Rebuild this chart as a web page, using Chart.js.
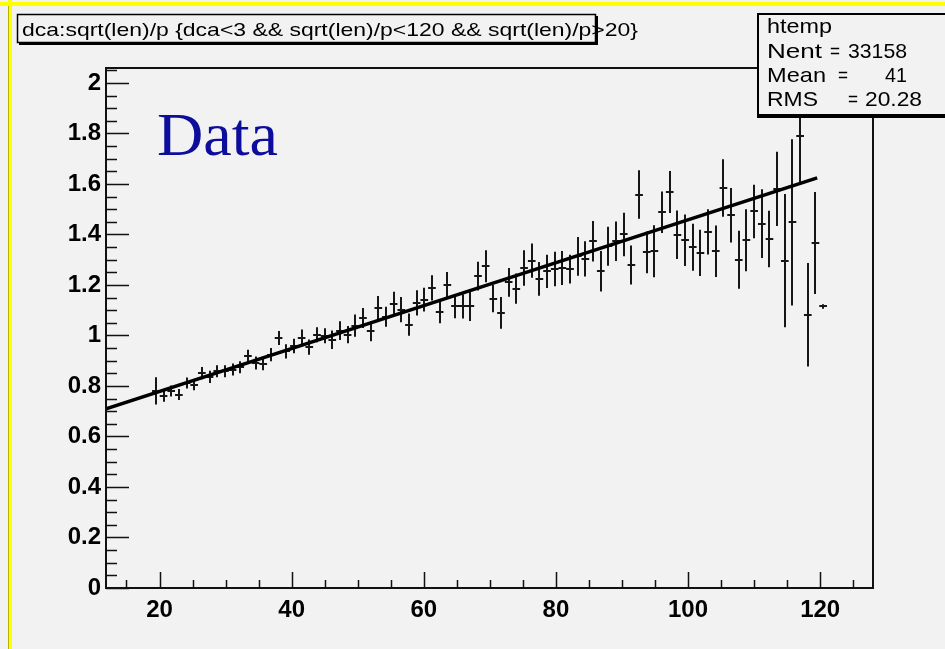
<!DOCTYPE html>
<html>
<head>
<meta charset="utf-8">
<script src="https://cdn.jsdelivr.net/npm/chart.js@4.4.1/dist/chart.umd.min.js"></script>
<style>
  html, body { margin: 0; padding: 0; background: #f2f2f2; }
  #wrap { position: relative; width: 945px; height: 649px; }
</style>
</head>
<body>
<div id="wrap"><canvas id="profChart"></canvas></div>
<script>
// profile bin centres (sqrt(len)/p)
const xCenters = [
  19.45, 20.61, 21.77, 22.93, 24.09, 25.25, 26.41, 27.57, 28.74, 29.90,
  31.06, 32.22, 33.38, 34.54, 35.70, 36.86, 38.02, 39.18, 40.35, 41.51,
  42.67, 43.83, 44.99, 46.15, 47.31, 48.47, 49.63, 50.79, 51.96, 53.12,
  54.28, 55.44, 56.60, 57.76, 58.92, 60.08, 61.24, 62.40, 63.57, 64.73,
  65.89, 67.05, 68.21, 69.37, 70.53, 71.69, 72.85, 74.01, 75.18, 76.34,
  77.50, 78.66, 79.82, 80.98, 82.14, 83.30, 84.46, 85.62, 86.79, 87.95,
  89.11, 90.27, 91.43, 92.59, 93.75, 94.91, 96.07, 97.23, 98.40, 99.56,
  100.72, 101.88, 103.04, 104.20, 105.36, 106.52, 107.68, 108.84, 110.01, 111.17,
  112.33, 113.49, 114.65, 115.81, 116.97, 118.13, 119.29, 120.45
];
// mean dca per bin
const dcaMean = [
  0.781, 0.759, 0.780, 0.766, 0.812, 0.805, 0.851, 0.836, 0.858, 0.858,
  0.865, 0.874, 0.917, 0.891, 0.888, 0.924, 0.990, 0.937, 0.958, 0.990,
  0.954, 1.003, 0.999, 0.983, 1.019, 1.003, 1.039, 1.069, 1.016, 1.109,
  1.074, 1.126, 1.102, 1.043, 1.129, 1.142, 1.188, 1.092, 1.201, 1.115,
  1.115, 1.115, 1.235, 1.274, 1.146, 1.089, 1.210, 1.185, 1.267, 1.296,
  1.224, 1.254, 1.263, 1.267, 1.263, 1.313, 1.303, 1.373, 1.254, 1.353,
  1.373, 1.400, 1.279, 1.558, 1.329, 1.333, 1.488, 1.568, 1.399, 1.377,
  1.349, 1.327, 1.410, 1.333, 1.584, 1.476, 1.300, 1.377, 1.491, 1.443,
  1.382, 1.580, 1.296, 1.448, 1.789, 1.082, 1.366, 1.115
];
// error on the mean per bin
const dcaErr = [
  0.050, 0.018, 0.018, 0.018, 0.018, 0.018, 0.020, 0.020, 0.020, 0.020,
  0.020, 0.020, 0.022, 0.022, 0.022, 0.022, 0.024, 0.024, 0.025, 0.030,
  0.026, 0.026, 0.026, 0.033, 0.033, 0.030, 0.040, 0.036, 0.035, 0.043,
  0.036, 0.043, 0.046, 0.040, 0.046, 0.043, 0.046, 0.040, 0.046, 0.043,
  0.044, 0.054, 0.053, 0.059, 0.050, 0.059, 0.053, 0.056, 0.066, 0.064,
  0.063, 0.062, 0.064, 0.063, 0.053, 0.073, 0.066, 0.076, 0.076, 0.073,
  0.074, 0.082, 0.073, 0.092, 0.079, 0.099, 0.078, 0.079, 0.092, 0.098,
  0.089, 0.088, 0.086, 0.098, 0.110, 0.104, 0.111, 0.119, 0.102, 0.132,
  0.108, 0.143, 0.260, 0.325, 0.183, 0.201, 0.198, 0.005
];
const binHalfWidth = 0.58;

// linear fit drawn over the profile
const fitX = [11.9, 119.55];
const fitY = [0.709, 1.624];

const xMajor = [20, 40, 60, 80, 100, 120];
const yMajor = [0, 0.2, 0.4, 0.6, 0.8, 1, 1.2, 1.4, 1.6, 1.8, 2];

const titleText = 'dca:sqrt(len)/p {dca<3 && sqrt(len)/p<120 && sqrt(len)/p>20}';
const statsName = 'htemp';
const statsRows = [['Nent', '33158'], ['Mean', '41'], ['RMS', '20.28']];

// draws text squeezed/stretched to a given width
function fitText(ctx, txt, x, y, w) {
  const m = ctx.measureText(txt).width;
  ctx.save();
  ctx.translate(x, y);
  ctx.scale(w / m, 1);
  ctx.fillText(txt, 0, 0);
  ctx.restore();
}

const rootPlot = {
  id: 'rootPlot',
  beforeDraw(chart) {
    const ctx = chart.ctx;
    ctx.save();
    ctx.fillStyle = '#f2f2f2';
    ctx.fillRect(0, 0, chart.width, chart.height);
    // yellow pad border
    ctx.fillStyle = '#ffff00';
    ctx.fillRect(0, 2, chart.width, 4);
    ctx.fillRect(8, 0, 4, chart.height);
    ctx.fillStyle = '#b5b500';
    ctx.fillRect(8, 6, 1, chart.height);
    ctx.restore();
  },
  beforeDatasetsDraw(chart) {
    // profile points: bin-width horizontal + error bar vertical
    const ctx = chart.ctx, xs = chart.scales.x, ys = chart.scales.y;
    ctx.save();
    ctx.strokeStyle = '#161616';
    ctx.lineWidth = 2;
    ctx.beginPath();
    xCenters.forEach((xv, i) => {
      const px = Math.round(xs.getPixelForValue(xv));
      const py = Math.round(ys.getPixelForValue(dcaMean[i]));
      const x0 = xs.getPixelForValue(xv - binHalfWidth);
      const x1 = xs.getPixelForValue(xv + binHalfWidth);
      const yTop = ys.getPixelForValue(dcaMean[i] + dcaErr[i]);
      const yBot = ys.getPixelForValue(dcaMean[i] - dcaErr[i]);
      ctx.moveTo(x0, py); ctx.lineTo(x1, py);
      ctx.moveTo(px, yTop - 1); ctx.lineTo(px, yBot + 1);
    });
    ctx.stroke();
    ctx.restore();
  },
  afterDraw(chart) {
    const ctx = chart.ctx, a = chart.chartArea;
    const xs = chart.scales.x, ys = chart.scales.y;
    ctx.save();
    // frame
    ctx.strokeStyle = '#111';
    ctx.lineWidth = 2;
    ctx.strokeRect(a.left, a.top, a.right - a.left, a.bottom - a.top);

    // ticks pointing inwards
    ctx.lineWidth = 1.5;
    ctx.beginPath();
    for (let v = 15; v <= 125; v += 5) {
      const px = Math.round(xs.getPixelForValue(v)) + 0.5;
      const len = v % 20 === 0 ? 16 : 8;
      ctx.moveTo(px, a.bottom); ctx.lineTo(px, a.bottom - len);
    }
    for (let k = 0; k <= 41; k++) {
      const v = k * 0.05;
      if (v > ys.max) break;
      const py = Math.round(ys.getPixelForValue(v)) + 0.5;
      const len = k % 4 === 0 ? 23 : 11;
      ctx.moveTo(a.left, py); ctx.lineTo(a.left + len, py);
    }
    ctx.stroke();

    // "Data" label
    ctx.fillStyle = '#0d0d9c';
    ctx.font = '62px "Liberation Serif", "Times New Roman", serif';
    ctx.textBaseline = 'alphabetic';
    fitText(ctx, 'Data', 157, 155, 121);

    // title pave
    ctx.fillStyle = '#f2f2f2';
    ctx.fillRect(17, 14, 578, 28);
    ctx.fillStyle = '#000';
    ctx.fillRect(595, 16, 3, 29);
    ctx.fillRect(19, 42, 579, 3);
    ctx.lineWidth = 1.5;
    ctx.strokeStyle = '#000';
    ctx.strokeRect(17.5, 14.5, 578, 28);
    ctx.fillStyle = '#000';
    ctx.font = '19px "Liberation Sans", Arial, sans-serif';
    fitText(ctx, titleText, 22, 36, 616);

    // stats pave
    ctx.fillStyle = '#f2f2f2';
    ctx.fillRect(757, 13, 200, 103);
    ctx.fillStyle = '#000';
    ctx.fillRect(757, 115, 200, 3);
    ctx.lineWidth = 2;
    ctx.strokeRect(758, 14, 200, 101);
    ctx.font = '21px "Liberation Sans", Arial, sans-serif';
    fitText(ctx, statsName, 767, 33, 65);
    const baseY = [58, 82, 106];
    const labelW = [55, 59, 51];
    const eqL = [830, 838, 848];
    const valL = [848, 885, 865];
    const valR = [907, 907, 922];
    statsRows.forEach((r, i) => {
      fitText(ctx, r[0], 767, baseY[i], labelW[i]);
      fitText(ctx, '=', eqL[i], baseY[i], 10);
      fitText(ctx, r[1], valL[i], baseY[i], valR[i] - valL[i]);
    });
    ctx.restore();
  }
};

const tickFont = { family: '"Liberation Sans", Arial, sans-serif', size: 24, weight: 'bold' };

const ctx = document.getElementById('profChart').getContext('2d');
const profChart = new Chart(ctx, {
  type: 'scatter',
  data: {
    datasets: [
      {
        label: 'htemp',
        data: xCenters.map((x, i) => ({ x: x, y: dcaMean[i] })),
        pointRadius: 0,
        showLine: false
      },
      {
        type: 'line',
        label: 'fit',
        data: fitX.map((x, i) => ({ x: x, y: fitY[i] })),
        borderColor: '#000',
        borderWidth: 3.5,
        pointRadius: 0,
        fill: false
      }
    ]
  },
  options: {
    responsive: true,
    maintainAspectRatio: false,
    animation: false,
    layout: { padding: { left: 0, top: 68, right: 72, bottom: 0 } },
    plugins: { legend: { display: false }, tooltip: { enabled: false } },
    scales: {
      x: {
        type: 'linear',
        min: 11.9,
        max: 128.0,
        grid: { display: false, drawTicks: false },
        border: { display: false },
        afterBuildTicks: s => { s.ticks = xMajor.map(v => ({ value: v })); },
        afterFit: s => { s.height = 61; },
        ticks: {
          color: '#000',
          padding: 8,
          font: tickFont,
          callback: v => String(v)
        }
      },
      y: {
        type: 'linear',
        min: 0,
        max: 2.059,
        grid: { display: false, drawTicks: false },
        border: { display: false },
        afterBuildTicks: s => { s.ticks = yMajor.map(v => ({ value: v })); },
        afterFit: s => { s.width = 106; },
        ticks: {
          color: '#000',
          padding: 5,
          font: tickFont,
          callback: v => String(Number(v.toFixed(1)))
        }
      }
    }
  },
  plugins: [rootPlot]
});
</script>
</body>
</html>
